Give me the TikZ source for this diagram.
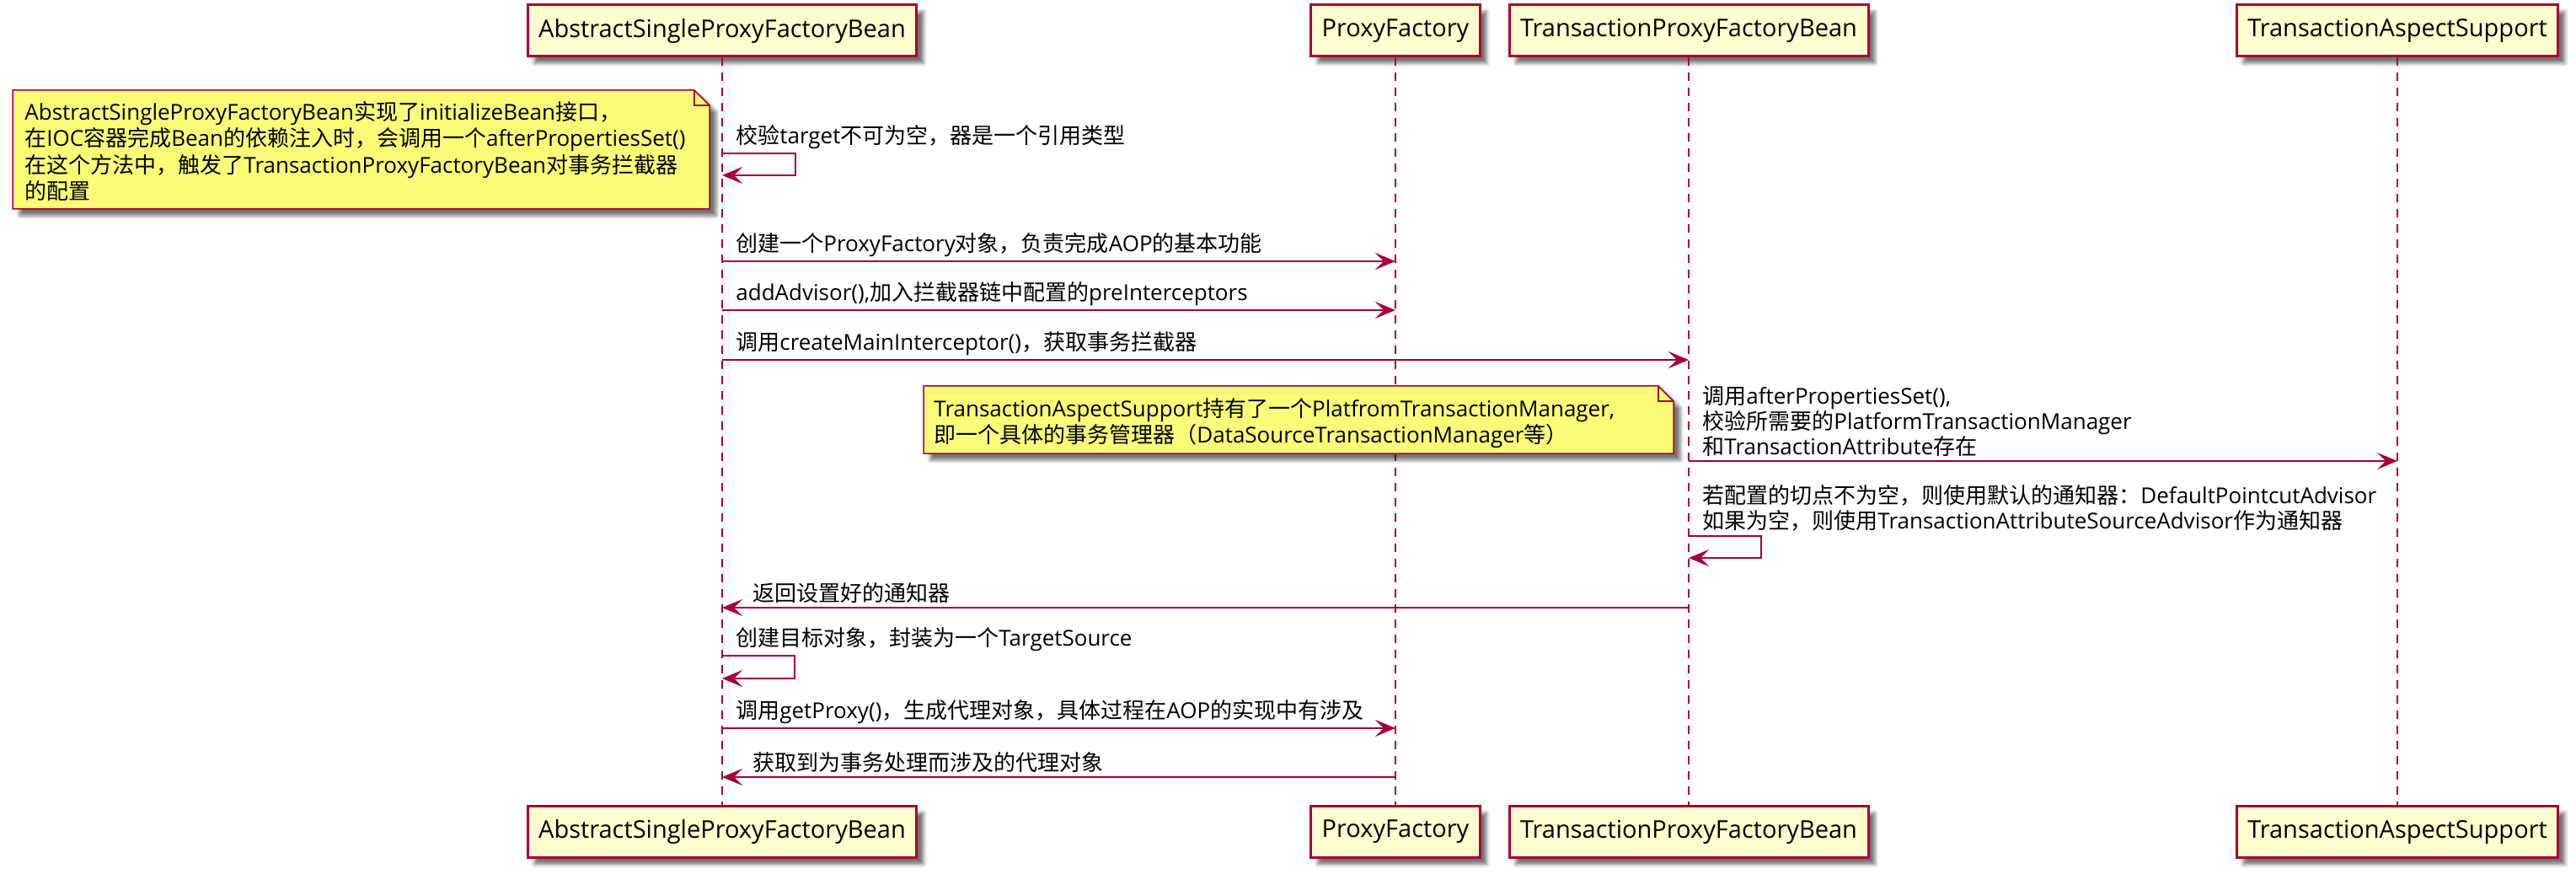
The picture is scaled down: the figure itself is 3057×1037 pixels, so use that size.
\documentclass[tikz,border=0pt]{standalone}
\usepackage{fontspec}
\setmainfont{Open Sans}
\newfontfamily\cjkfont{Noto Sans CJK SC}
\usetikzlibrary{arrows.meta,shadows.blur}
\definecolor{umlred}{HTML}{A80036}
\definecolor{partfill}{HTML}{FEFECE}
\definecolor{notefill}{HTML}{FBFB77}

% Chinese characters in Noto Sans CJK SC
\XeTeXinterchartokenstate=1
\newXeTeXintercharclass\cjkclass
\newcount\cjkcnt
\def\cjkrange#1#2{\cjkcnt=#1
  \loop\XeTeXcharclass\cjkcnt=\cjkclass
  \ifnum\cjkcnt<#2 \advance\cjkcnt by 1 \repeat}
\cjkrange{"3000}{"303F}
\cjkrange{"4E00}{"9FFF}
\cjkrange{"FF00}{"FFEF}
\def\cjkswitch#1{\ifnum#1=\cjkclass\else
  \XeTeXinterchartoks #1 \cjkclass={\cjkfont}%
  \XeTeXinterchartoks \cjkclass #1={\normalfont}\fi}
\cjkswitch{0}\cjkswitch{1}\cjkswitch{2}\cjkswitch{3}\cjkswitch{4095}

\begin{document}
\begin{tikzpicture}[x=0.5pt, y=-0.5pt,
    part/.style={draw=umlred, line width=1.5pt, fill=partfill, minimum height=30.5pt,
      inner xsep=6.5pt, font=\fontsize{14.5}{17}\selectfont,
      blur shadow={shadow xshift=4pt, shadow yshift=-4pt, shadow opacity=55}},
    life/.style={draw=umlred, line width=0.75pt, dash pattern=on 5pt off 4pt},
    msg/.style={draw=umlred, line width=1pt, -{Stealth[length=12pt, width=10pt, inset=5pt]}},
    lbl/.style={anchor=south west, inner sep=0pt, align=left, font=\fontsize{13}{15}\selectfont},
    notebox/.style={draw=umlred, line width=0.75pt, fill=notefill,
      blur shadow={shadow xshift=4pt, shadow yshift=-4pt, shadow opacity=55}},
    notetxt/.style={anchor=north west, inner sep=0pt, align=left, font=\fontsize{13}{15.7}\selectfont}]
    \useasboundingbox (0,0) rectangle (3057,1037);

    % Deelnemers en levenslijnen
    \foreach \n/\x/\t in {pa/857/AbstractSingleProxyFactoryBean, pb/1656/ProxyFactory,
        pc/2004/TransactionProxyFactoryBean, pd/2845/TransactionAspectSupport} {
        \node[part] (\n) at (\x,36.5) {\t};
        \node[part] (\n2) at (\x,987) {\t};
        \draw[life] (\n) -- (\n2);
    }

    % Hoogtes van de berichten
    \foreach \c/\y in {s1a/182, s1b/208, m2/310, m3/368, m4/427, m6/547, s7a/636, s7b/662,
        m8/721, s9a/778, s9b/805, m10/864, m11/922}
        \coordinate (\c) at (0,\y);

    % Notities
    \draw[notebox] (15,107) -- (824,107) -- (842,125) -- (842,248) -- (15,248) -- cycle;
    \draw[draw=umlred, line width=0.75pt] (824,107) -- (824,125) -- (842,125);
    \node[notetxt] (n1) at (29,120) {AbstractSingleProxyFactoryBean实现了initializeBean接口，\\在IOC容器完成Bean的依赖注入时，会调用一个afterPropertiesSet()\\在这个方法中，触发了TransactionProxyFactoryBean对事务拦截器\\的配置};

    \draw[notebox] (1096,458) -- (1968,458) -- (1986,476) -- (1986,538) -- (1096,538) -- cycle;
    \draw[draw=umlred, line width=0.75pt] (1968,458) -- (1968,476) -- (1986,476);
    \node[notetxt] (n2) at (1108,472) {TransactionAspectSupport持有了一个PlatfromTransactionManager,\\即一个具体的事务管理器（DataSourceTransactionManager等）};

    % Berichten
    \draw[msg] (pa |- s1a) -- ++(87,0) |- (pa |- s1b);
    \node[lbl, xshift=8pt, yshift=2.5pt] (l1) at (pa |- s1a) {校验target不可为空，器是一个引用类型};

    \draw[msg] (pa |- m2) -- (pb |- m2);
    \node[lbl, xshift=8pt, yshift=2.5pt] (l2) at (pa |- m2) {创建一个ProxyFactory对象，负责完成AOP的基本功能};

    \draw[msg] (pa |- m3) -- (pb |- m3);
    \node[lbl, xshift=8pt, yshift=2.5pt] (l3) at (pa |- m3) {addAdvisor(),加入拦截器链中配置的preInterceptors};

    \draw[msg] (pa |- m4) -- (pc |- m4);
    \node[lbl, xshift=8pt, yshift=2.5pt] (l4) at (pa |- m4) {调用createMainInterceptor()，获取事务拦截器};

    \draw[msg] (pc |- m6) -- (pd |- m6);
    \node[lbl, xshift=8pt, yshift=2.5pt] (l6) at (pc |- m6) {调用afterPropertiesSet(),\\校验所需要的PlatformTransactionManager\\和TransactionAttribute存在};

    \draw[msg] (pc |- s7a) -- ++(86,0) |- (pc |- s7b);
    \node[lbl, xshift=8pt, yshift=2.5pt] (l7) at (pc |- s7a) {若配置的切点不为空，则使用默认的通知器：DefaultPointcutAdvisor\\如果为空，则使用TransactionAttributeSourceAdvisor作为通知器};

    \draw[msg] (pc |- m8) -- (pa |- m8);
    \node[lbl, xshift=18pt, yshift=2.5pt] (l8) at (pa |- m8) {返回设置好的通知器};

    \draw[msg] (pa |- s9a) -- ++(86,0) |- (pa |- s9b);
    \node[lbl, xshift=8pt, yshift=2.5pt] (l9) at (pa |- s9a) {创建目标对象，封装为一个TargetSource};

    \draw[msg] (pa |- m10) -- (pb |- m10);
    \node[lbl, xshift=8pt, yshift=2.5pt] (l10) at (pa |- m10) {调用getProxy()，生成代理对象，具体过程在AOP的实现中有涉及};

    \draw[msg] (pb |- m11) -- (pa |- m11);
    \node[lbl, xshift=18pt, yshift=2.5pt] (l11) at (pa |- m11) {获取到为事务处理而涉及的代理对象};
\end{tikzpicture}
\end{document}
